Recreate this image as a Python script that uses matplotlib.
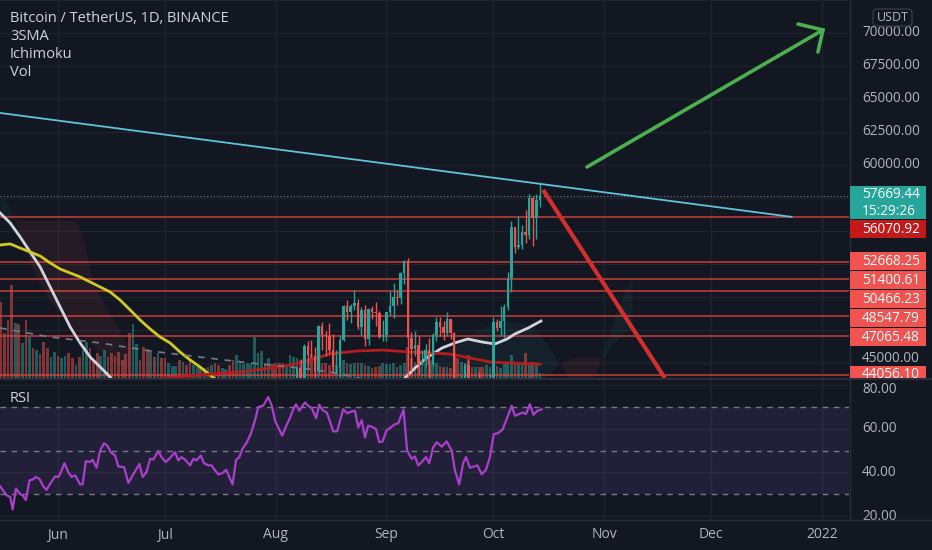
import datetime as dt
import matplotlib
matplotlib.use("Agg")
import matplotlib.pyplot as plt
import matplotlib.transforms as mtransforms
from matplotlib.patches import Rectangle, FancyBboxPatch
from matplotlib.lines import Line2D
import numpy as np

plt.rcParams['font.family'] = ['Open Sans', 'DejaVu Sans']

# ---------------- data ----------------
BASE = dt.date(2021, 6, 1)          # day offsets are days since this date

month_dates = ['2021-06-01', '2021-07-01', '2021-08-01', '2021-09-01',
               '2021-10-01', '2021-11-01', '2021-12-01', '2022-01-01']
month_labels = ['Jun', 'Jul', 'Aug', 'Sep', 'Oct', 'Nov', 'Dec', '2022']

candle_start = '2021-08-06'
c_open = [40870, 42830, 44610, 43800, 46290, 45590, 45550, 44430, 47830, 47100,
          47050, 46000, 44690, 44710, 46760, 49340, 48870, 49290, 49510, 47690,
          48990, 46850, 49070, 48900, 48810, 46990, 47140, 48850, 49280, 50030,
          49940, 51790, 52700, 46860, 46050, 46400, 44850, 45170, 46020, 44940,
          47110, 48120, 47740, 47300, 48310, 47260, 42970, 40700, 43560, 44880,
          42840, 42720, 43210, 42180, 41030, 41520, 43790, 48140, 47630, 48200,
          49220, 51470, 55320, 53790, 53950, 54950, 54660, 57470, 56000, 57370]
c_high = [43390, 44700, 45310, 46450, 46700, 46740, 46220, 47890, 48140, 47390,
          48050, 47170, 46000, 47050, 49380, 49760, 49500, 50500, 49860, 49270,
          49380, 49190, 49310, 49640, 48910, 48250, 48900, 50450, 51050, 50560,
          51900, 52800, 52920, 47380, 47400, 47040, 45990, 46460, 46880, 47250,
          48480, 48500, 48150, 48840, 48370, 47330, 43640, 44000, 44980, 45200,
          42970, 43950, 44350, 42790, 42630, 44130, 48500, 48360, 49300, 49500,
          51890, 55750, 55330, 56100, 55490, 56560, 57840, 57680, 57800, 58530]
c_low = [39850, 42450, 43260, 42850, 44670, 45350, 43770, 44260, 45970, 45530,
         45680, 44380, 44220, 43960, 46640, 48280, 48000, 49030, 47600, 47130,
         46300, 46370, 48370, 47800, 46860, 46700, 46700, 48600, 48400, 49410,
         49500, 50970, 42840, 44410, 45510, 44140, 44740, 44740, 43370, 44750,
         46690, 47020, 46750, 47050, 46850, 42500, 39600, 40570, 43070, 40680,
         41650, 40750, 42100, 40900, 40750, 41410, 43280, 47440, 47100, 46900,
         49000, 50380, 53360, 53620, 53660, 54080, 54420, 53880, 54420, 56820]
c_close = [42830, 44610, 43800, 46290, 45590, 45550, 44430, 47830, 47100, 47050,
           46000, 44690, 44710, 46760, 49340, 48870, 49290, 49510, 47690, 48990,
           46850, 49070, 48900, 48810, 46990, 47140, 48850, 49280, 50030, 49940,
           51790, 52700, 46860, 46050, 46400, 44850, 45170, 46020, 44940, 47110,
           48120, 47740, 47300, 48310, 47260, 42970, 40700, 43560, 44880, 42840,
           42720, 43210, 42180, 41030, 41520, 43790, 48140, 47630, 48200, 49220,
           51470, 55320, 53790, 53950, 54950, 54660, 57470, 56000, 57370, 57669.44]

vol_start = '2021-05-16'
vol_k = [152, 90, 116, 186, 110, 108, 70, 116, 82, 60,
         56, 48, 72, 60, 42, 52, 44, 40, 44, 50,
         40, 26, 42, 56, 72, 60, 36, 50, 44, 56,
         42, 50, 44, 52, 36, 48, 90, 108, 68, 36,
         62, 58, 52, 42, 50, 40, 40, 30, 24, 24,
         36, 32, 26, 36, 26, 22, 22, 20, 22, 26,
         30, 26, 20, 18, 26, 36, 46, 30, 28, 30,
         28, 82, 50, 54, 30, 40, 28, 30, 30, 30,
         26, 46, 42, 40,
         36, 52, 40, 42, 32, 40, 30, 30, 26, 32,
         26, 30, 36, 30, 28, 30, 30, 30, 26, 24,
         20, 22, 24, 30, 28, 28, 30, 22, 26, 30,
         62, 40, 32, 42, 22, 30, 32, 36, 30, 24,
         22, 22, 20, 50, 40, 32, 30, 46, 22, 22,
         22, 22, 26, 22, 46, 24, 20, 30, 32, 46,
         32, 30, 30, 50, 32, 32, 30, 10]
vol_up_early = [0, 0, 0, 0, 1, 0, 1, 0, 1, 0,
                1, 0, 0, 0, 1, 1, 0, 1, 1, 0,
                0, 1, 0, 1, 1, 0, 0, 0, 1, 1,
                0, 0, 0, 0, 0, 0, 0, 1, 1, 0,
                0, 0, 1, 0, 1, 0, 0, 1, 1, 1,
                0, 1, 0, 0, 1, 1, 0, 1, 0, 1,
                0, 0, 1, 1, 0, 0, 1, 1, 1, 1,
                1, 1, 1, 1, 0, 1, 0, 0, 0, 0,
                1, 1]

# moving averages (day offset, price)
sma_white_l_day = [-16.2, -13.4, -10.6, -7.8, -5.0, -2.2, 0.6, 3.4, 6.2, 9.0, 11.8, 14.6, 17.4]
sma_white_l_val = [56360, 55610, 54550, 53410, 52270, 50760, 49240, 47730, 46520, 45450, 44700, 43940, 42800]
sma_white_r_day = [95.0, 97.2, 100.0, 103.6, 107.6, 111.2, 114.8, 118.8, 122.4, 125.8, 128.0, 131.7, 135.3]
sma_white_r_val = [42800, 43860, 44620, 45450, 46140, 46520, 46820, 46590, 46440, 46820, 47200, 47650, 48180]
sma_yellow_day = [-16.2, -13.4, -10.6, -7.8, -5.0, -2.2, 0.6, 3.4, 6.2, 9.0, 11.8, 14.6,
                  17.4, 20.2, 23.0, 25.8, 28.6, 31.4, 34.2, 37.0, 39.8, 42.6, 44.0, 48.0]
sma_yellow_val = [53940, 54020, 53710, 53410, 53110, 52580, 52120, 51820, 51520, 51140, 50760, 50380,
                  49770, 49020, 48260, 47580, 46970, 46520, 45830, 45230, 44700, 44090, 43790, 43000]
sma_red_day = [25.0, 36.1, 51.0, 62.2, 67.8, 76.2, 83.8, 91.0, 98.6, 104.2, 109.8, 115.4, 121.0, 126.6, 135.0]
sma_red_val = [43700, 44020, 44320, 44700, 45000, 45680, 45910, 45980, 45830, 45760, 45680, 45380, 45080, 45000, 44920]
dash_gray_day = [-16.2, -2.2, 11.8, 25.8, 39.8, 53.8, 67.8, 76.2, 84.6]
dash_gray_val = [47650, 46970, 46520, 45910, 45450, 45000, 44620, 44320, 43860]

# Ichimoku cloud (span A / span B)
cloud_l_day = [-16.25, -14, -12, -9, -6, -3, 0, 3, 5, 7, 9, 11, 13, 16, 20]
cloud_l_a = [57600, 57000, 55800, 53500, 51500, 50000, 49000, 48000, 47500, 47000, 46500, 46000, 45500, 45000, 44500]
cloud_l_b = [56300, 56000, 55800, 55800, 55800, 55800, 55800, 55800, 55700, 54500, 52000, 50500, 49500, 48000, 46000]
cloud_r_day = [100, 105, 110, 115, 120, 125, 130, 135, 138, 141, 144, 147, 150, 153, 156, 159, 161]
cloud_r_a = [44500, 45000, 46000, 47000, 47800, 48200, 48000, 47200, 46000, 44800, 43500, 43300, 43800, 46000, 48500, 50500, 51300]
cloud_r_b = [43000, 43000, 43000, 43000, 43000, 43000, 43200, 43500, 44200, 45000, 45400, 45400, 45400, 45400, 46500, 47300, 47500]

levels = [56070.92, 52668.25, 51400.61, 50466.23, 48547.79, 47065.48, 44056.10]
current_price = 57669.44
countdown = '15:29:26'
price_ticks = [70000, 67500, 65000, 62500, 60000, 45000]

trend_day = [-17.0, 205.5]
trend_val = [63970, 56070]
red_arrow_day = [135.9, 170.0]
red_arrow_val = [58110, 43860]
green_arrow_day = [148.2, 214.3]
green_arrow_val = [59850, 70230]
green_head_day = [207.3, 214.3, 212.9]
green_head_val = [70680, 70230, 68560]

rsi_day = [-16.2, -14.4, -13.4, -12.7, -11.8, -10.6, -9.9, -9.0, -8.0, -7.1, -6.2, -5.2, -4.1, -3.2,
           -2.2, -0.8, 0.1, 0.8, 1.8, 2.9, 3.8, 4.8, 6.2, 6.9, 7.8, 9.0, 9.7, 10.8, 11.8, 12.9,
           13.8, 14.8, 16.0, 16.9, 18.5, 19.7, 20.9, 22.8, 23.7, 24.8, 25.8, 26.7, 28.1, 29.0,
           30.2, 31.4, 32.8, 33.7, 34.6, 35.6, 37.0, 37.9, 38.8, 40.0, 40.9, 42.1, 43.0, 44.0,
           44.9, 46.1, 47.1, 48.0, 48.9, 49.9, 50.8, 51.7, 52.9, 54.0, 55.2, 56.1, 57.5, 58.9,
           59.9, 60.8, 61.7, 62.8, 63.9, 65.0, 65.9, 66.7, 67.6, 68.3, 69.2, 70.1, 71.1, 72.3,
           73.2, 74.1, 75.3, 76.2, 77.1, 78.2, 79.9, 81.0, 82.3, 83.2, 84.1, 85.1, 86.0, 86.9,
           87.9, 89.1, 90.0, 90.9, 92.0, 93.2, 94.4, 95.3, 96.8, 97.8, 99.1, 100.0, 100.9, 101.9,
           103.1, 104.0, 105.1, 106.1, 107.5, 108.9, 110.3, 111.2, 112.4, 113.5, 114.3, 115.4,
           116.5, 117.5, 118.7, 119.9, 121.0, 122.1, 123.3, 124.6, 125.7, 127.1, 128.0, 129.2,
           130.2, 131.1, 132.2, 133.2, 134.3, 135.5]
rsi_val = [33.6, 29.5, 28.8, 23.0, 32.6, 30.0, 29.5, 27.3, 36.4, 36.7, 37.9, 37.0, 33.6, 32.0,
           34.8, 38.2, 37.9, 40.0, 44.2, 40.0, 37.9, 38.6, 34.5, 34.5, 45.2, 44.7, 45.8, 42.1, 50.0, 53.3,
           52.3, 49.2, 47.7, 42.7, 42.4, 35.2, 38.6, 43.9, 37.9, 40.2, 46.2, 45.9, 49.7, 47.0,
           44.7, 46.7, 49.2, 45.5, 47.0, 45.8, 43.2, 46.2, 45.5, 47.7, 44.2, 43.2, 43.2, 40.9,
           39.1, 39.7, 41.2, 37.9, 34.5, 45.8, 47.0, 50.8, 53.8, 57.6, 63.9, 70.0, 70.5, 74.5,
           70.5, 63.6, 60.6, 56.8, 61.2, 65.0, 68.9, 71.2, 68.2, 70.0, 72.0, 70.5, 69.4, 64.8,
           71.0, 68.5, 67.4, 63.3, 58.8, 58.8, 68.9, 67.1, 67.9, 68.2, 60.6, 63.9, 56.0, 61.4,
           60.9, 59.8, 53.8, 54.1, 59.1, 60.6, 62.1, 62.4, 68.7, 50.0, 46.2, 47.3, 43.2, 44.7,
           47.0, 44.2, 51.5, 53.8, 51.8, 54.2, 50.0, 40.9, 34.5, 44.2, 47.0, 42.1,
           42.7, 43.2, 39.1, 41.2, 47.0, 57.6, 57.9, 59.8, 64.4, 70.5, 65.9, 66.7,
           67.4, 66.7, 71.2, 66.4, 68.2, 68.9]
rsi_levels = [70, 50, 30]
rsi_ticks = [80, 60, 40, 20]

# ---------------- style ----------------
BG = '#131722'
GRID = '#1e222d'
SEP = '#2a2e39'
TXT = '#b2b5be'
UP = '#26a69a'
DN = '#ef5350'
W, H = 932, 550


def doff(s):
    return (dt.date.fromisoformat(s) - BASE).days


XMIN, XMAX = -16.25, 221.6
YMIN, YMAX = 43863, 72500
RMIN, RMAX = 18.2, 82.3

fig = plt.figure(figsize=(W / 100, H / 100), dpi=100, facecolor=BG)
PANE_R = 849
ax = fig.add_axes([0, 172 / H, PANE_R / W, 378 / H])
axr = fig.add_axes([0, 30 / H, PANE_R / W, 140 / H])
for a in (ax, axr):
    a.set_facecolor(BG)
    for s in a.spines.values():
        s.set_visible(False)
    a.set_xticks([])
    a.set_yticks([])
    a.set_xlim(XMIN, XMAX)
ax.set_ylim(YMIN, YMAX)
axr.set_ylim(RMIN, RMAX)

mdays = [doff(m) for m in month_dates]
for d in mdays:
    ax.axvline(d, color=GRID, lw=1, zorder=0.5)
    axr.axvline(d, color=GRID, lw=1, zorder=0.5)
for p in np.arange(42500, 72501, 2500):
    ax.axhline(p, color=GRID, lw=1, zorder=0.5)
for r in rsi_ticks:
    axr.axhline(r, color=GRID, lw=1, zorder=0.5)

# Ichimoku cloud
for cd, ca, cb in ((cloud_l_day, cloud_l_a, cloud_l_b), (cloud_r_day, cloud_r_a, cloud_r_b)):
    cd, ca, cb = np.array(cd, float), np.array(ca, float), np.array(cb, float)
    ax.fill_between(cd, ca, cb, where=ca >= cb, interpolate=True, color=UP, alpha=0.07, lw=0, zorder=1)
    ax.fill_between(cd, ca, cb, where=ca < cb, interpolate=True, color=DN, alpha=0.08, lw=0, zorder=1)

# candles
cdays = doff(candle_start) + np.arange(len(c_open))
o, h, l, c = map(np.array, (c_open, c_high, c_low, c_close))
cup = c >= o

# volume (overlay at the bottom of the price pane)
vdays = doff(vol_start) + np.arange(len(vol_k))
vol_up = list(vol_up_early) + [int(u) for u in cup]
VOL_TOP = 756.0
blend = mtransforms.blended_transform_factory(ax.transData, ax.transAxes)
vcols = [UP if u else DN for u in vol_up]
ax.bar(vdays, np.array(vol_k) / VOL_TOP, bottom=0, width=0.75, color=vcols, alpha=0.5,
       transform=blend, zorder=2, lw=0)

# horizontal levels
for lv in levels:
    ax.axhline(lv, color='#d9443f', lw=1.1, alpha=0.9, zorder=3)

# MAs
ax.plot(sma_white_l_day, sma_white_l_val, color='#d1d4dc', lw=2, zorder=4)
ax.plot(sma_white_r_day, sma_white_r_val, color='#d1d4dc', lw=2, zorder=4)
ax.plot(sma_yellow_day, sma_yellow_val, color='#cfcb1f', lw=2, zorder=4)
ax.plot(sma_red_day, sma_red_val, color='#b71c1c', lw=2, zorder=4)
ax.plot(dash_gray_day, dash_gray_val, color='#787b86', lw=1.2, ls=(0, (4, 4)), zorder=4)

ax.axhline(current_price, color='#787b86', lw=0.8, ls=(0, (1, 2)), zorder=4.5)

ccols = [UP if u else DN for u in cup]
ax.vlines(cdays, l, h, colors=ccols, lw=1, zorder=5)
bh = np.maximum(np.abs(c - o), 40)
ax.bar(cdays, bh, bottom=np.minimum(o, c), width=0.7, color=ccols, lw=0, zorder=5.5)

# drawings
ax.plot(trend_day, trend_val, color='#5fc4da', lw=1.3, zorder=6)
ax.plot(red_arrow_day, red_arrow_val, color='#d32f2f', lw=3, zorder=6, solid_capstyle='butt')
ax.plot(green_arrow_day, green_arrow_val, color='#4caf50', lw=2.6, zorder=6, solid_capstyle='round')
ax.plot(green_head_day, green_head_val, color='#4caf50', lw=2.6, zorder=6,
        solid_capstyle='round', solid_joinstyle='miter')

# legend texts
ax.text(10 / PANE_R, 1 - 18 / 378, 'Bitcoin / TetherUS, 1D, BINANCE', transform=ax.transAxes,
        color='#d1d4dc', fontsize=10.5, va='center', ha='left')
for i, t in enumerate(['3SMA', 'Ichimoku', 'Vol']):
    ax.text(10 / PANE_R, 1 - (37 + 18 * i) / 378, t, transform=ax.transAxes,
            color='#d1d4dc', fontsize=10.5, va='center', ha='left')

# right price scale
pblend = mtransforms.blended_transform_factory(ax.transAxes, ax.transData)
LX = 862 / PANE_R
FS = 9.8
up3 = mtransforms.ScaledTranslation(0, 4 / 100, fig.dpi_scale_trans)
down3 = mtransforms.ScaledTranslation(0, -4 / 100, fig.dpi_scale_trans)
for p in price_ticks:
    tr = pblend + up3 if p == 45000 else pblend
    ax.text(LX, p, f'{p:.2f}', transform=tr, color=TXT, fontsize=FS, va='center',
            ha='left', clip_on=False, zorder=10)

clipbox = mtransforms.TransformedBbox(mtransforms.Bbox([[PANE_R / W, 172 / H], [1, 1]]), fig.transFigure)
to_ax = ax.transData + ax.transAxes.inverted()


def ypx(p):
    return (1 - to_ax.transform((0, p))[1]) * 378


BX0, BX1 = 850 / PANE_R, 926 / PANE_R


def box(top, height, color, lines):
    r = Rectangle((BX0, 1 - (top + height - 1) / 378), BX1 - BX0, (height - 1) / 378,
                  transform=ax.transAxes, facecolor=color, edgecolor='none', zorder=11)
    fig.add_artist(r)
    r.set_clip_box(clipbox)
    r.set_clip_on(True)
    n = len(lines)
    for i, t in enumerate(lines):
        yc = top + (height - 1) * (i + 0.5) / n
        tx = fig.text(LX, 1 - yc / 378, t, transform=ax.transAxes, color='white', fontsize=FS,
                      va='center', ha='left', zorder=12)
        tx.set_clip_box(clipbox)
        tx.set_clip_on(True)


top = ypx(current_price) - 9.5
box(top, 34, UP, [f'{current_price:.2f}', countdown])
prev_bottom = top + 34
for k, lv in enumerate(sorted(levels, reverse=True)):
    t = max(ypx(lv) - 9.5, prev_bottom)
    box(t, 19, '#c21a1a' if k == 0 else '#f05350', [f'{lv:.2f}'])
    prev_bottom = t + 19

# USDT box
ub = FancyBboxPatch((873 / W, 1 - 26 / H), 39 / W, 17 / H, boxstyle='round,pad=0,rounding_size=0.006',
                    transform=fig.transFigure, facecolor='none', edgecolor='#363a45', lw=1)
fig.add_artist(ub)
fig.text(892.5 / W, 1 - 17.5 / H, 'USDT', color=TXT, fontsize=9, ha='center', va='center')

# RSI pane
axr.axhspan(30, 70, color='#7e57c2', alpha=0.15, lw=0, zorder=1)
for lv in rsi_levels:
    axr.axhline(lv, color='#787b86', lw=1, ls=(0, (4, 4)), zorder=2)
axr.plot(rsi_day, rsi_val, color='#ab3fcc', lw=1.6, zorder=3)
axr.text(10 / PANE_R, (520 - 398) / 140, 'RSI', transform=axr.transAxes, color='#d1d4dc',
         fontsize=10.5, va='center', ha='left')
rblend = mtransforms.blended_transform_factory(axr.transAxes, axr.transData)
for r in rsi_ticks:
    tr = rblend + down3 if r == 80 else rblend
    axr.text(LX, r, f'{r:.2f}', transform=tr, color=TXT, fontsize=FS, va='center',
             ha='left', clip_on=False)

# time axis
tblend = mtransforms.blended_transform_factory(axr.transData, axr.transAxes)
for d, lab in zip(mdays, month_labels):
    axr.text(d, (520 - 535) / 140, lab, transform=tblend, color=TXT, fontsize=10,
             ha='center', va='center', clip_on=False)

# separators
fig.add_artist(Line2D([0, 1], [171 / H, 171 / H], color=SEP, lw=1.5, transform=fig.transFigure))
fig.add_artist(Line2D([0, 1], [30 / H, 30 / H], color=SEP, lw=1, transform=fig.transFigure))
fig.add_artist(Line2D([849.5 / W, 849.5 / W], [30 / H, 1], color=SEP, lw=1, transform=fig.transFigure))

fig.savefig('out.png', dpi=100, facecolor=BG)
